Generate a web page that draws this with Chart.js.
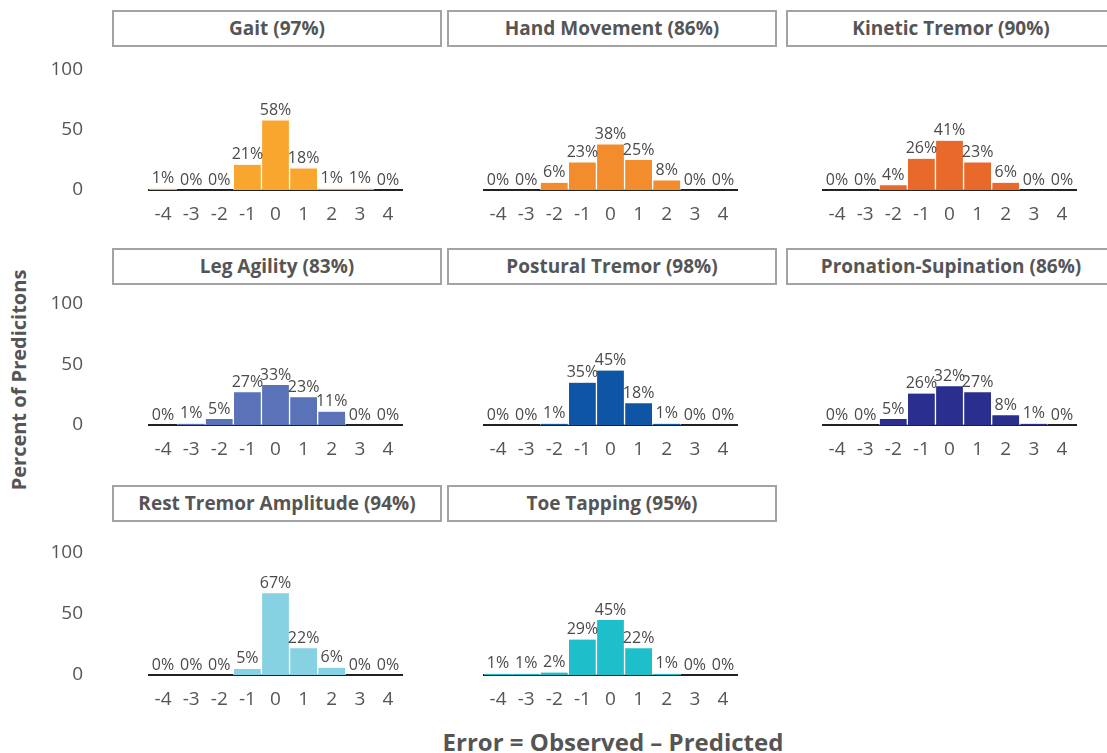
<!DOCTYPE html>
<html>
<head>
<meta charset="utf-8">
<script src="https://cdn.jsdelivr.net/npm/chart.js@4.4.0/dist/chart.umd.min.js"></script>
<style>
  body { margin: 0; width: 1107px; height: 753px; overflow: hidden; background: #fff; font-family: "Open Sans", Lato, sans-serif; position: relative; }
  .strip { position: absolute; height: 37px; width: 330px; box-sizing: border-box; border: 2px solid #a3a3a3; color: #555; font-weight: bold; font-size: 19px; text-align: center; line-height: 33px; white-space: nowrap; }
  canvas { position: absolute; }
  .ytitle { position: absolute; left: 18px; top: 380px; transform: translate(-50%, -50%) rotate(-90deg); font-weight: bold; font-size: 20px; color: #555; white-space: nowrap; }
  .xtitle { position: absolute; left: 613px; top: 741px; transform: translate(-50%, -50%); font-weight: bold; font-size: 24px; color: #555; white-space: nowrap; }
</style>
</head>
<body>
<div class="ytitle">Percent of Predicitons</div>
<div class="xtitle">Error = Observed – Predicted</div>
<script>
// error categories on the x axis
var errorLabels = ['-4','-3','-2','-1','0','1','2','3','4'];

// percent of predictions per error value, one array per task
var gait       = [1, 0, 0, 21, 58, 18, 1, 1, 0];
var handMove   = [0, 0, 6, 23, 38, 25, 8, 0, 0];
var kinetic    = [0, 0, 4, 26, 41, 23, 6, 0, 0];
var legAgility = [0, 1, 5, 27, 33, 23, 11, 0, 0];
var postural   = [0, 0, 1, 35, 45, 18, 1, 0, 0];
var pronation  = [0, 0, 5, 26, 32, 27, 8, 1, 0];
var restTremor = [0, 0, 0, 5, 67, 22, 6, 0, 0];
var toeTapping = [1, 1, 2, 29, 45, 22, 1, 0, 0];

var panelTitles = ['Gait (97%)', 'Hand Movement (86%)', 'Kinetic Tremor (90%)',
                   'Leg Agility (83%)', 'Postural Tremor (98%)', 'Pronation-Supination (86%)',
                   'Rest Tremor Amplitude (94%)', 'Toe Tapping (95%)'];
var panelData = [gait, handMove, kinetic, legAgility, postural, pronation, restTremor, toeTapping];
var panelColors = ['#f9a62e', '#f28c2c', '#e8692a', '#5a72b8', '#0e55a5', '#2a2f8f', '#86d2e2', '#1ebfcb'];

// grid geometry
var stripLeft = [112, 447, 786];
var stripTop = [10, 248, 485];
var yTop = [70, 304, 553];      // pixel of 100
var yBottom = [190, 425, 675];  // pixel of 0

var valueLabels = {
    id: 'valueLabels',
    afterDatasetsDraw: function(chart) {
        var ctx = chart.ctx;
        var vals = chart.data.datasets[0].data;
        ctx.save();
        ctx.font = '16px "Open Sans"';
        ctx.fillStyle = '#4a4a4a';
        ctx.textAlign = 'center';
        ctx.textBaseline = 'bottom';
        chart.getDatasetMeta(0).data.forEach(function(bar, j) {
            ctx.fillText(vals[j] + '%', bar.x, bar.y - 2);
        });
        ctx.restore();
    }
};

for (var i = 0; i < panelData.length; i++) {
    var col = i % 3, row = Math.floor(i / 3);

    var strip = document.createElement('div');
    strip.className = 'strip';
    strip.style.left = stripLeft[col] + 'px';
    strip.style.top = stripTop[row] + 'px';
    strip.textContent = panelTitles[i];
    document.body.appendChild(strip);

    var cv = document.createElement('canvas');
    var w = col == 0 ? 402 : 330;
    var h = 20 + (yBottom[row] - yTop[row]) + 40;
    cv.width = w; cv.height = h;
    cv.style.left = (col == 0 ? 40 : stripLeft[col]) + 'px';
    cv.style.top = (yTop[row] - 20) + 'px';
    document.body.appendChild(cv);

    var yScale = {
        display: col == 0,
        min: 0, max: 100,
        grid: { display: false, drawTicks: false },
        border: { display: false },
        ticks: { stepSize: 50, font: { family: 'Open Sans', size: 19 }, color: '#555', padding: 66 }
    };
    if (col == 0) {
        yScale.afterFit = function(s) { s.width = 109; s.paddingTop = 0; s.paddingBottom = 0; };
    }

    new Chart(cv, {
        type: 'bar',
        data: {
            labels: errorLabels,
            datasets: [{
                data: panelData[i],
                backgroundColor: panelColors[i],
                borderColor: 'rgba(255,255,255,0.6)',
                borderWidth: { left: 1, right: 1, top: 0, bottom: 0 },
                barPercentage: 1,
                categoryPercentage: 1
            }]
        },
        options: {
            responsive: false,
            animation: false,
            layout: { padding: { top: 20, right: 40, bottom: 0, left: col == 0 ? 0 : 37 } },
            plugins: { legend: { display: false }, tooltip: { enabled: false } },
            scales: {
                x: {
                    grid: { display: false, drawTicks: false },
                    border: { display: true, color: '#222', width: 2 },
                    ticks: { font: { family: 'Open Sans', size: 19 }, color: '#555', padding: 13, maxRotation: 0, autoSkip: false },
                    afterFit: function(s) { s.height = 40; s.paddingLeft = 0; s.paddingRight = 0; }
                },
                y: yScale
            }
        },
        plugins: [valueLabels]
    });
}
</script>
</body>
</html>
